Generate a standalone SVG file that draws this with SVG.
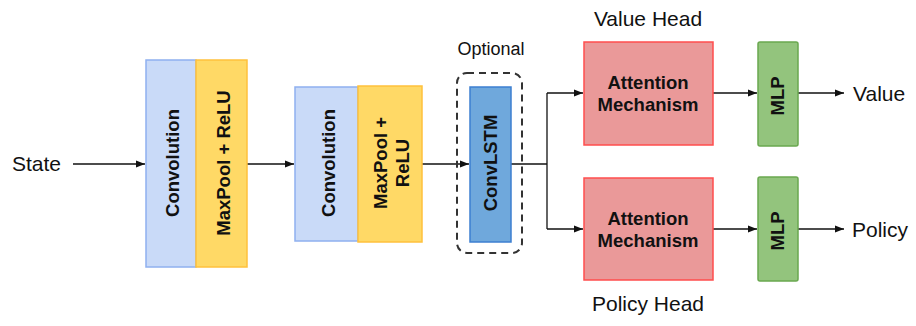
<svg xmlns="http://www.w3.org/2000/svg" width="916" height="326" viewBox="0 0 916 326">
<defs>
<marker id="ah" viewBox="0 0 10 10" refX="10" refY="5" markerWidth="9" markerHeight="9" markerUnits="userSpaceOnUse" orient="auto"><path d="M0,1 L10,5 L0,9 Z" fill="#111"/></marker>
<style>
.lbl{font-family:"Liberation Sans",Arial,sans-serif;font-size:21px;fill:#111}
.b{font-family:"Liberation Sans",Arial,sans-serif;font-size:18.5px;font-weight:bold;fill:#111}
.conv{fill:#c9daf8;stroke:#8fb0ef;stroke-width:1.5}
.pool{fill:#ffd966;stroke:#ffc13d;stroke-width:1.5}
.att{fill:#ea9999;stroke:#ff4d4d;stroke-width:1.5}
.mlp{fill:#93c47d;stroke:#6aa84f;stroke-width:1.5}
.lstm{fill:#6fa8dc;stroke:#3d7fd1;stroke-width:1.5}
.e{fill:none;stroke:#111;stroke-width:1.3}
</style>
</defs>
<g id="connectors">
<path class="e" d="M73,164 H145" marker-end="url(#ah)"/>
<path class="e" d="M247,164 H294" marker-end="url(#ah)"/>
<path class="e" d="M422,164 H469" marker-end="url(#ah)"/>
<path class="e" d="M511,164 H547"/>
<path class="e" d="M547,93 V229"/>
<path class="e" d="M547,93 H583" marker-end="url(#ah)"/>
<path class="e" d="M547,229 H583" marker-end="url(#ah)"/>
<path class="e" d="M713,93 H757" marker-end="url(#ah)"/>
<path class="e" d="M713,229 H757" marker-end="url(#ah)"/>
<path class="e" d="M798,93 H844" marker-end="url(#ah)"/>
<path class="e" d="M798,229 H844" marker-end="url(#ah)"/>
</g>
<g id="state"><text class="lbl" x="12" y="171">State</text></g>
<g id="conv1"><rect class="conv" x="146" y="60" width="50" height="207"/><text class="b" transform="translate(179,163) rotate(-90)" text-anchor="middle">Convolution</text></g>
<g id="pool1"><rect class="pool" x="196" y="60" width="51" height="207"/><text class="b" transform="translate(230,163) rotate(-90)" text-anchor="middle">MaxPool + ReLU</text></g>
<g id="conv2"><rect class="conv" x="295" y="87" width="63" height="154"/><text class="b" transform="translate(335,163) rotate(-90)" text-anchor="middle">Convolution</text></g>
<g id="pool2"><rect class="pool" x="358" y="86" width="64" height="156"/><text class="b" transform="translate(387,163) rotate(-90)" text-anchor="middle">MaxPool +</text><text class="b" transform="translate(409,163) rotate(-90)" text-anchor="middle">ReLU</text></g>
<g id="optional"><rect x="457" y="73" width="65" height="180" rx="10" fill="none" stroke="#333" stroke-width="2" stroke-dasharray="7,5"/><text class="lbl" x="491" y="55" text-anchor="middle" style="font-size:18px">Optional</text></g>
<g id="convlstm"><rect class="lstm" x="470" y="87" width="41" height="155"/><text class="b" transform="translate(497,163) rotate(-90)" text-anchor="middle">ConvLSTM</text></g>
<g id="valuehead"><text class="lbl" x="648" y="26" text-anchor="middle">Value Head</text></g>
<g id="att1"><rect class="att" x="584" y="42" width="129" height="103"/><text class="b" x="648" y="89" text-anchor="middle">Attention</text><text class="b" x="648" y="111" text-anchor="middle">Mechanism</text></g>
<g id="att2"><rect class="att" x="584" y="178" width="129" height="102"/><text class="b" x="648" y="225" text-anchor="middle">Attention</text><text class="b" x="648" y="247" text-anchor="middle">Mechanism</text></g>
<g id="mlp1"><rect class="mlp" x="758" y="42" width="40" height="104" rx="2"/><text class="b" transform="translate(784,96) rotate(-90)" text-anchor="middle">MLP</text></g>
<g id="mlp2"><rect class="mlp" x="758" y="177" width="40" height="104" rx="2"/><text class="b" transform="translate(784,231) rotate(-90)" text-anchor="middle">MLP</text></g>
<g id="value"><text class="lbl" x="853" y="101">Value</text></g>
<g id="policy"><text class="lbl" x="852" y="237">Policy</text></g>
<g id="policyhead"><text class="lbl" x="648" y="311" text-anchor="middle">Policy Head</text></g>
</svg>
